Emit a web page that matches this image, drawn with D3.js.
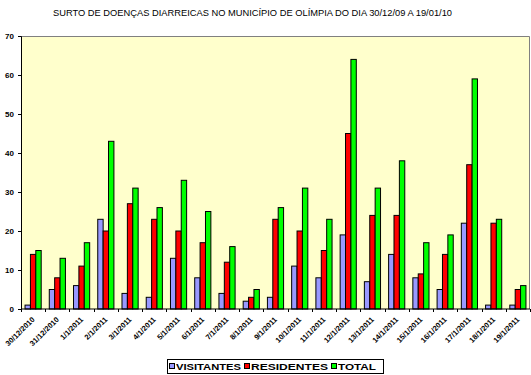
<!DOCTYPE html>
<html>
<head>
<meta charset="utf-8">
<script src="https://cdn.jsdelivr.net/npm/d3@7"></script>
<style>
  body { margin: 0; background: #fff; }
  text { font-family: "Liberation Sans", Arial, sans-serif; }
</style>
</head>
<body>
<svg width="531" height="375"></svg>
<script>
const categories = ['30/12/2010', '31/12/2010', '1/1/2011', '2/1/2011', '3/1/2011', '4/1/2011',
  '5/1/2011', '6/1/2011', '7/1/2011', '8/1/2011', '9/1/2011', '10/1/2011', '11/1/2011',
  '12/1/2011', '13/1/2011', '14/1/2011', '15/1/2011', '16/1/2011', '17/1/2011', '18/1/2011', '19/1/2011'];

const visitantes = [1, 5, 6, 23, 4, 3, 13, 8, 4, 2, 3, 11, 8, 19, 7, 14, 8, 5, 22, 1, 1];
const residentes = [14, 8, 11, 20, 27, 23, 20, 17, 12, 3, 23, 20, 15, 45, 24, 24, 9, 14, 37, 22, 5];
const total = [15, 13, 17, 43, 31, 26, 33, 25, 16, 5, 26, 31, 23, 64, 31, 38, 17, 19, 59, 23, 6];

const seriesNames = ['VISITANTES', 'RESIDENTES', 'TOTAL'];
const seriesColors = ['#9999ff', '#ff0000', '#00ff00'];
const yTicks = [0, 10, 20, 30, 40, 50, 60, 70];

const title = 'SURTO DE DOENÇAS DIARREICAS NO MUNICÍPIO DE OLÍMPIA DO DIA 30/12/09 A 19/01/10';

const data = categories.map((c, i) => ({cat: c, values: [visitantes[i], residentes[i], total[i]]}));

const svg = d3.select('svg');
const margin = {top: 36, right: 1, bottom: 66, left: 21};
const width = +svg.attr('width') - margin.left - margin.right;
const height = +svg.attr('height') - margin.top - margin.bottom;

svg.append('text')
  .attr('x', 53)
  .attr('y', 16)
  .attr('font-size', 8.5)
  .attr('textLength', 399)
  .attr('lengthAdjust', 'spacingAndGlyphs')
  .text(title);

const g = svg.append('g')
  .attr('transform', `translate(${margin.left},${margin.top})`);

const x0 = d3.scaleBand()
  .domain(categories)
  .range([0, width]);

// excel-like gap width of 150%
const barW = x0.bandwidth() / 4.5;
const x1 = d3.scaleBand()
  .domain(d3.range(3))
  .range([barW * 0.75, barW * 3.75]);

const y = d3.scaleLinear()
  .domain([0, 70])
  .range([height, 0]);

g.append('rect')
  .attr('width', width)
  .attr('height', height)
  .attr('fill', '#ffffcc');

g.append('path')
  .attr('d', `M0,0.5H${width - 0.5}V${height}`)
  .attr('fill', 'none')
  .attr('stroke', '#808080');

const groups = g.selectAll('.group')
  .data(data)
  .enter().append('g')
    .attr('transform', d => `translate(${x0(d.cat)},0)`);

groups.selectAll('rect')
  .data(d => d.values)
  .enter().append('rect')
    .attr('x', (d, i) => x1(i))
    .attr('y', d => y(d))
    .attr('width', x1.bandwidth())
    .attr('height', d => height - y(d))
    .attr('fill', (d, i) => seriesColors[i])
    .attr('stroke', '#000')
    .attr('stroke-width', 1);

const yAxis = g.append('g')
  .call(d3.axisLeft(y)
    .tickValues(yTicks)
    .tickSize(3)
    .tickPadding(4));
yAxis.select('.domain').attr('stroke', '#000');
yAxis.selectAll('text')
  .attr('font-size', 8)
  .attr('font-weight', 'bold')
  .attr('font-family', '"Liberation Sans", Arial, sans-serif');

// x axis: ticks sit between categories
const xAxis = g.append('g')
  .attr('transform', `translate(0,${height})`);
xAxis.append('line')
  .attr('x1', 0).attr('x2', width)
  .attr('stroke', '#000');
xAxis.selectAll('.tick')
  .data(d3.range(categories.length + 1))
  .enter().append('line')
    .attr('x1', i => Math.round(i * x0.step()) + 0.5)
    .attr('x2', i => Math.round(i * x0.step()) + 0.5)
    .attr('y1', 0)
    .attr('y2', 3)
    .attr('stroke', '#000');

xAxis.selectAll('.label')
  .data(categories)
  .enter().append('text')
    .attr('transform', d => `translate(${x0(d) + x0.bandwidth() / 2 + 2},${11}) rotate(-45)`)
    .attr('text-anchor', 'end')
    .attr('font-size', 7.5)
    .attr('font-weight', 'bold')
    .text(d => d);

// legend
const legend = svg.append('g')
  .attr('transform', 'translate(167,359)');
legend.append('rect')
  .attr('x', 0.5).attr('y', 0.5)
  .attr('width', 216).attr('height', 14)
  .attr('fill', '#fff')
  .attr('stroke', '#000');

const legendX = [2, 77, 164];
const legendW = [65, 77, 38];
const items = legend.selectAll('.item')
  .data(seriesNames)
  .enter().append('g')
    .attr('transform', (d, i) => `translate(${legendX[i]},0)`);
items.append('rect')
  .attr('x', 0.5).attr('y', 4.5)
  .attr('width', 5).attr('height', 5)
  .attr('fill', (d, i) => seriesColors[i])
  .attr('stroke', '#000');
items.append('text')
  .attr('x', 7)
  .attr('y', 11)
  .attr('font-size', 9)
  .attr('font-weight', 'bold')
  .attr('textLength', (d, i) => legendW[i])
  .attr('lengthAdjust', 'spacingAndGlyphs')
  .text(d => d);
</script>
</body>
</html>
